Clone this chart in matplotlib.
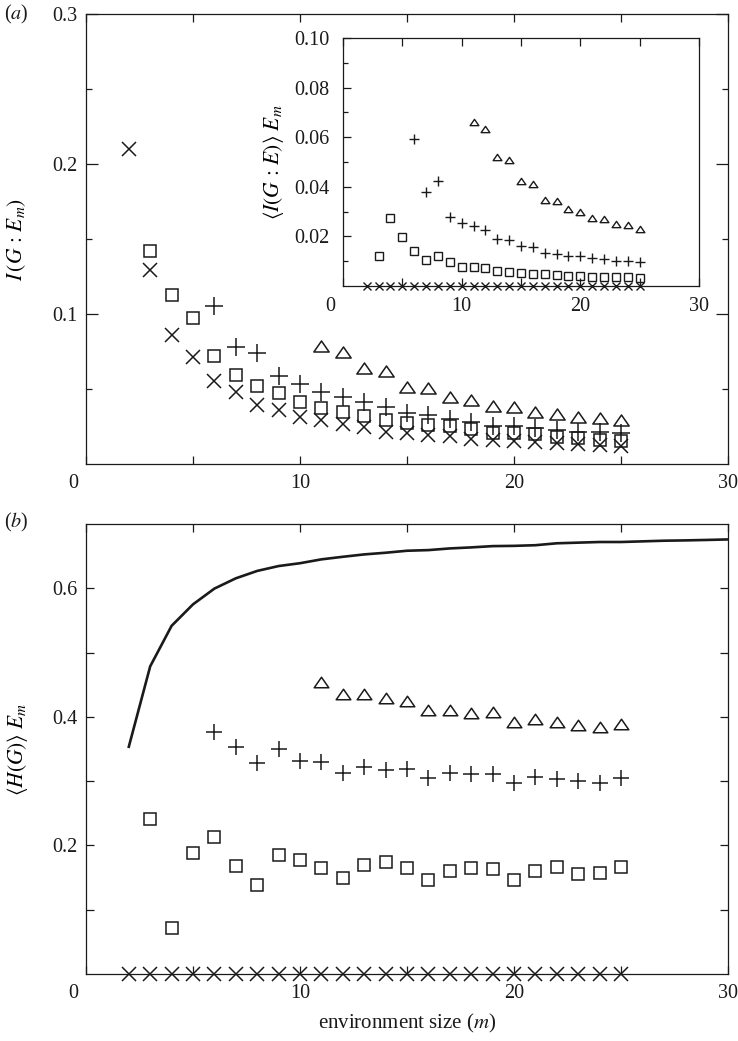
import numpy as np
import matplotlib
matplotlib.use("Agg")
import matplotlib.pyplot as plt
from matplotlib.path import Path
from matplotlib.transforms import ScaledTranslation
from matplotlib.ticker import FixedLocator, FuncFormatter

plt.rcParams['font.family'] = ['Liberation Serif', 'DejaVu Serif']
plt.rcParams['mathtext.fontset'] = 'stix'

# ---------------- data ----------------
# panel (a): mutual information I(G:E_m)
xa_cross = list(range(2, 26))
ya_cross = [0.210, 0.1295, 0.0857, 0.0712, 0.0556, 0.0479, 0.0394, 0.0361, 0.0316,
            0.0294, 0.0267, 0.0249, 0.0216, 0.0205, 0.0194, 0.0189, 0.0167, 0.0160,
            0.0156, 0.0145, 0.0138, 0.0134, 0.0127, 0.0122]
xa_square = list(range(3, 26))
ya_square = [0.142, 0.1124, 0.0975, 0.0723, 0.0594, 0.0523, 0.0472, 0.0412, 0.0374,
             0.0345, 0.0323, 0.0294, 0.0272, 0.0260, 0.0256, 0.0234, 0.0205, 0.0205,
             0.0200, 0.0183, 0.0174, 0.0160, 0.0156]
xa_plus = list(range(6, 26))
ya_plus = [0.1053, 0.0779, 0.0739, 0.0590, 0.0534, 0.0479, 0.0450, 0.0412, 0.0383,
           0.0338, 0.0329, 0.0300, 0.0278, 0.0256, 0.0252, 0.0238, 0.0227, 0.0216,
           0.0211, 0.0205]
xa_tri = list(range(11, 26))
ya_tri = [0.0790, 0.0746, 0.0641, 0.0619, 0.0516, 0.0507, 0.0445, 0.0427, 0.0389,
          0.0383, 0.0345, 0.0334, 0.0312, 0.0307, 0.0294]

# inset: <I(G:E)> E_m
xi_cross = list(range(2, 26))
yi_cross = [0.0] * 24
xi_square = list(range(3, 26))
yi_square = [0.0119, 0.0274, 0.0196, 0.0143, 0.0105, 0.0119, 0.0097, 0.0076, 0.0076,
             0.0074, 0.0061, 0.0058, 0.0054, 0.0050, 0.0047, 0.0045, 0.0042, 0.0041,
             0.0038, 0.0038, 0.0035, 0.0035, 0.0034]
xi_plus = list(range(6, 26))
yi_plus = [0.0592, 0.0378, 0.0423, 0.0278, 0.0254, 0.0243, 0.0227, 0.0189, 0.0186,
           0.0162, 0.0157, 0.0132, 0.0130, 0.0122, 0.0119, 0.0112, 0.0108, 0.0099,
           0.0099, 0.0096]
xi_tri = list(range(11, 26))
yi_tri = [0.0662, 0.0632, 0.0522, 0.0509, 0.0422, 0.0412, 0.0346, 0.0341, 0.0312,
          0.0300, 0.0276, 0.0272, 0.0250, 0.0245, 0.0228]

# panel (b): <H(G)> E_m
xb_line = list(range(2, 31))
yb_line = [0.3535, 0.4786, 0.5416, 0.5750, 0.5995, 0.6155, 0.6270, 0.6346, 0.6390,
           0.6450, 0.6490, 0.6527, 0.6553, 0.6584, 0.6594, 0.6620, 0.6636, 0.6656,
           0.6660, 0.6670, 0.6700, 0.6710, 0.6720, 0.6720, 0.6730, 0.6740, 0.6745,
           0.6752, 0.6760]
xb_cross = list(range(2, 26))
yb_cross = [0.0] * 24
xb_square = list(range(3, 26))
yb_square = [0.241, 0.0712, 0.189, 0.2125, 0.168, 0.138, 0.1855, 0.177, 0.1647,
             0.149, 0.1688, 0.175, 0.165, 0.1465, 0.161, 0.1647, 0.1636, 0.1465,
             0.161, 0.1662, 0.156, 0.157, 0.1657]
xb_plus = list(range(6, 26))
yb_plus = [0.3762, 0.3535, 0.3287, 0.3504, 0.3313, 0.3297, 0.3132, 0.3225, 0.3168,
           0.3183, 0.3054, 0.3121, 0.3106, 0.3116, 0.2977, 0.3070, 0.3039, 0.3003,
           0.2977, 0.3054]
xb_tri = list(range(11, 26))
yb_tri = [0.4537, 0.4360, 0.4360, 0.4295, 0.4243, 0.4114, 0.4114, 0.4062, 0.4072,
          0.3922, 0.3969, 0.3922, 0.3881, 0.3840, 0.3891]

x_ticklabels = ['0', '10', '20', '30']

# ---------------- figure ----------------
W, H = 738, 1041
fig = plt.figure(figsize=(W / 100, H / 100), dpi=100)
INK = '#1a1a1a'
FS = 14.5

def fa(l, t, r, b):
    return [l / W, 1 - b / H, (r - l) / W, (b - t) / H]

ax1 = fig.add_axes(fa(86, 14, 728, 464))
ax2 = fig.add_axes(fa(86, 524, 728, 974))
axi = fig.add_axes(fa(343, 38, 699, 286))

tri = Path([(-1, -0.72), (1, -0.72), (0, 0.72), (-1, -0.72)],
           [Path.MOVETO, Path.LINETO, Path.LINETO, Path.CLOSEPOLY])

def series(ax, x, y, marker, ms, mew):
    ax.plot(x, y, linestyle='none', marker=marker, ms=ms, mfc='none',
            mec=INK, mew=mew, clip_on=False, zorder=3)

def style(ax, ylim, ymajor, yminor, ylabels_fmt, right_ticks=True,
          major_len=8, minor_len=4.5, ypad=6, xpad=7.5):
    ax.set_xlim(0, 30)
    ax.set_ylim(*ylim)
    for s in ax.spines.values():
        s.set_color(INK)
        s.set_linewidth(0.9)
    ax.xaxis.set_major_locator(FixedLocator([0, 5, 10, 15, 20, 25, 30]))
    ax.xaxis.set_major_formatter(FuncFormatter(
        lambda v, p: x_ticklabels[int(round(v)) // 10] if int(round(v)) % 10 == 0 else ''))
    ax.yaxis.set_major_locator(FixedLocator(ymajor))
    ax.yaxis.set_minor_locator(FixedLocator(yminor))
    ax.yaxis.set_major_formatter(FuncFormatter(ylabels_fmt))
    ax.tick_params(axis='both', which='major', direction='in', length=major_len * 0.72,
                   width=0.9, color=INK, labelsize=FS, top=True, right=right_ticks,
                   labelcolor=INK)
    ax.tick_params(axis='y', which='major', pad=ypad)
    ax.tick_params(axis='y', which='minor', direction='in', length=minor_len * 0.72,
                   width=0.9, color=INK, right=right_ticks)
    ax.tick_params(axis='x', which='major', length=8 * 0.72, pad=xpad)
    # shift the "0" x label left, as in the reference
    lbl = ax.get_xticklabels()[0]
    lbl.set_transform(lbl.get_transform() + ScaledTranslation(-13 / 100, 0, fig.dpi_scale_trans))

# panel (a)
series(ax1, xa_cross, ya_cross, 'x', 9.5, 1.1)
series(ax1, xa_square, ya_square, 's', 8.3, 1.1)
series(ax1, xa_plus, ya_plus, '+', 12.5, 1.1)
series(ax1, xa_tri, ya_tri, tri, 11, 1.1)
style(ax1, (0, 0.3), [0.1, 0.2, 0.3], [0.05, 0.15, 0.25],
      lambda v, p: '' if v == 0 else f'{v:.1f}', major_len=12, minor_len=6)
ax1.set_ylabel(r'$I\,(G\,:\,E_m)$', fontsize=FS + 1)
ax1.yaxis.set_label_coords(-0.090, 0.5)

# inset
series(axi, xi_cross, yi_cross, 'x', 6, 1.0)
series(axi, xi_square, yi_square, 's', 5.3, 1.0)
series(axi, xi_plus, yi_plus, '+', 7.5, 1.0)
series(axi, xi_tri, yi_tri, tri, 6.3, 1.0)
style(axi, (0, 0.10), [0.02, 0.04, 0.06, 0.08, 0.10],
      [0.01, 0.03, 0.05, 0.07, 0.09],
      lambda v, p: f'{v:.2f}', right_ticks=False, major_len=8, minor_len=4.5,
      ypad=9.5, xpad=8)
axi.set_ylabel(r'$\langle I(G\,:\,E)\rangle\ E_m$', fontsize=FS + 1)
axi.yaxis.set_label_coords(-0.160, 0.5)

# panel (b)
ax2.plot(xb_line, yb_line, color=INK, lw=1.9, zorder=2, solid_joinstyle='round')
series(ax2, xb_cross, yb_cross, 'x', 9.5, 1.1)
series(ax2, xb_square, yb_square, 's', 8.3, 1.1)
series(ax2, xb_plus, yb_plus, '+', 12, 1.1)
series(ax2, xb_tri, yb_tri, tri, 10.5, 1.1)
style(ax2, (0, 0.7), [0.1, 0.2, 0.3, 0.4, 0.5, 0.6],
      [], lambda v, p: f'{v:.1f}' if round(v * 10) % 2 == 0 else '',
      major_len=8, minor_len=4.5)
ax2.set_ylabel(r'$\langle H(G)\rangle\ E_m$', fontsize=FS + 1)
ax2.yaxis.set_label_coords(-0.088, 0.5)
ax2.set_xlabel(r'environment size ($m$)', fontsize=FS + 0.5, color=INK, labelpad=6)

# panel tags
fig.text(4 / W, 1 - 14 / H, r'($a$)', fontsize=FS, va='center', ha='left', color=INK)
fig.text(4 / W, 1 - 522 / H, r'($b$)', fontsize=FS, va='center', ha='left', color=INK)

fig.savefig('out.png', dpi=100)
